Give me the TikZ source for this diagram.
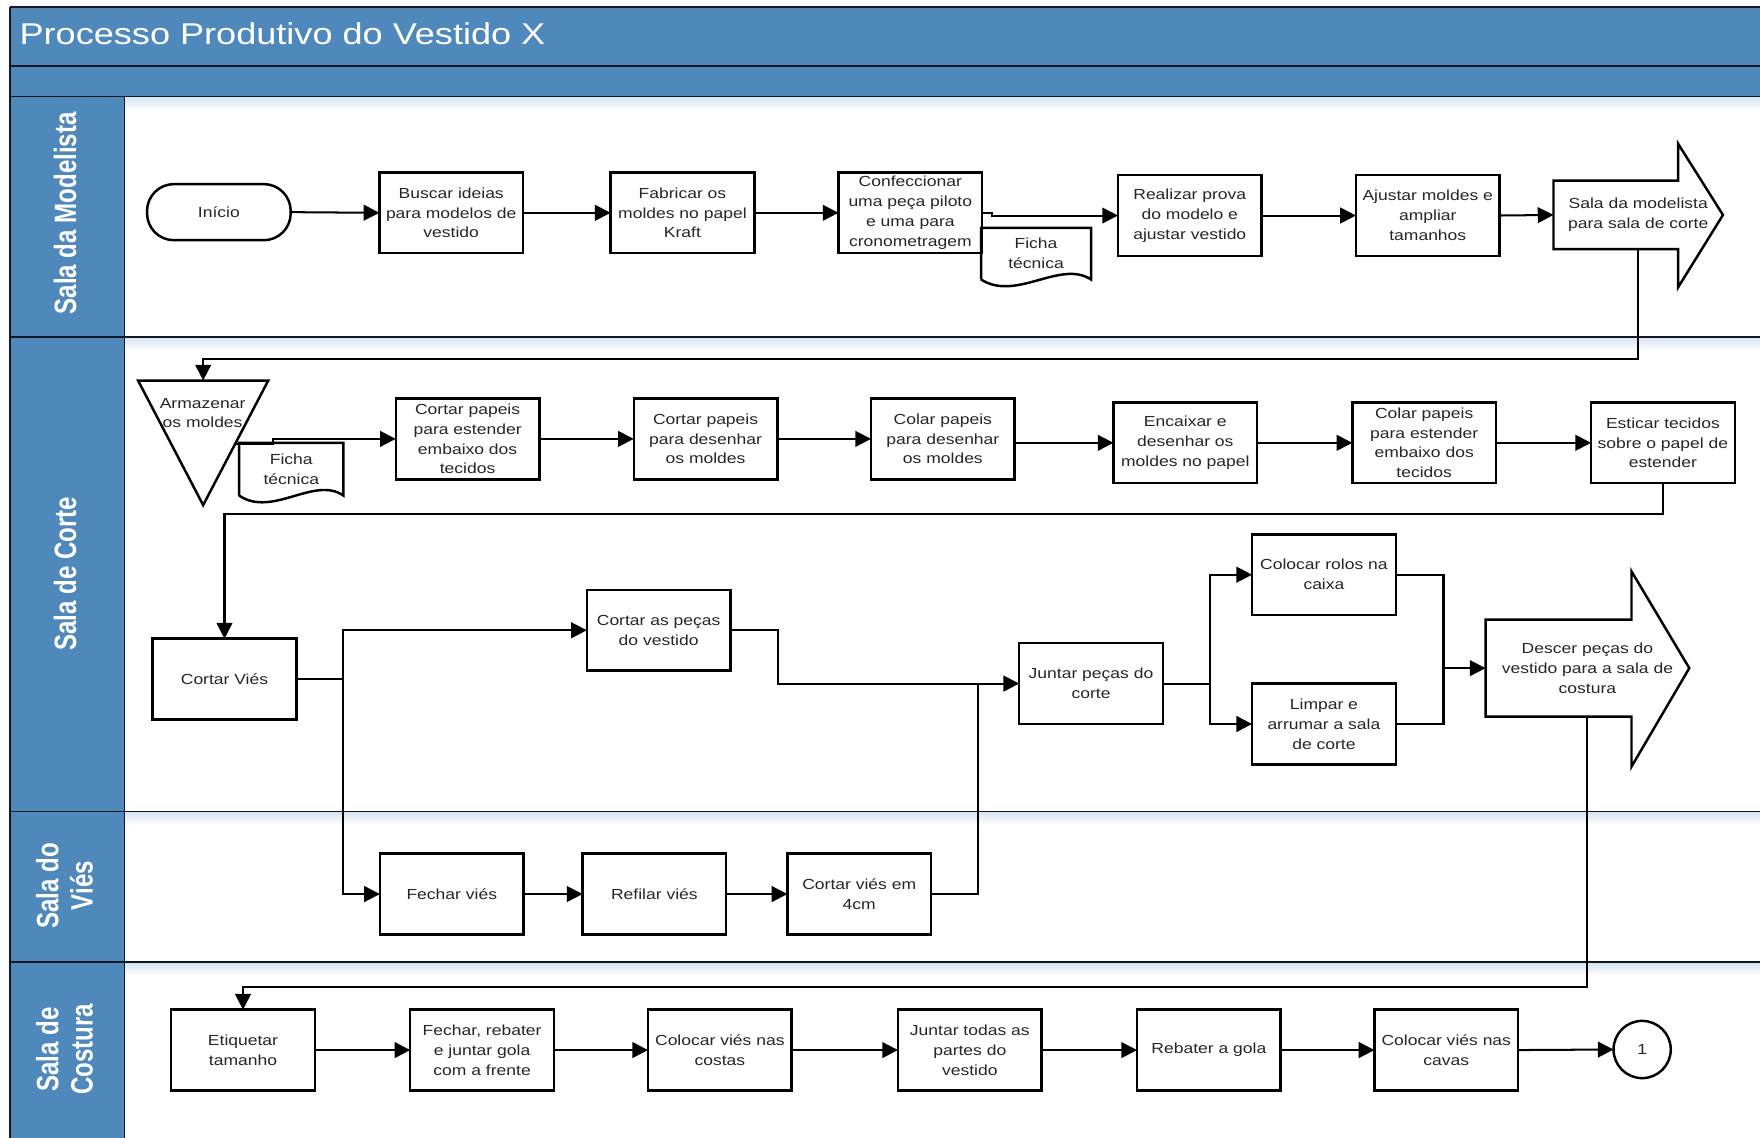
\documentclass[tikz,border=0pt]{standalone}
\usepackage{fontspec}
\setmainfont[FakeStretch=1.2]{Liberation Sans}
\newfontfamily\lanefont[FakeStretch=0.78]{Liberation Sans}
\usetikzlibrary{arrows.meta,calc}

\definecolor{laneblue}{HTML}{4F88BB}
\definecolor{glowblue}{HTML}{D8E5F2}
\definecolor{inktext}{HTML}{262626}
\definecolor{rulecol}{HTML}{111820}

\newcommand{\boxtext}{\fontsize{13}{17.7}\selectfont}
\newcommand{\titletext}{\fontsize{26.8}{30}\selectfont}
\newcommand{\lanetext}{\lanefont\bfseries\fontsize{27.5}{30.5}\selectfont}

\begin{document}
\begin{tikzpicture}[x=1pt,y=-1pt,
  every node/.style={inner sep=0pt, outer sep=0pt},
  stepbox/.style={draw=black, line width=2.2pt, fill=white, minimum width=128pt,
    minimum height=72pt, align=center, font=\boxtext, text=inktext},
  startbox/.style={stepbox, minimum height=50pt, rounded corners=24pt},
  endcircle/.style={draw=black, line width=2.2pt, fill=white, circle, minimum size=51pt,
    font=\boxtext, text=inktext},
  textarea/.style={align=center, font=\boxtext, text=inktext},
  outline/.style={draw=black, line width=2.2pt, line join=miter},
  link/.style={line width=1.8pt, draw=black},
  flow/.style={link, -{Triangle[length=14pt,width=14pt]}},
  lanelabel/.style={rotate=90, align=center, font=\lanetext, text=white},
  sep/.style={draw=rulecol, line width=1.4pt},
]
\useasboundingbox (0,0) rectangle (1568,1013);
\clip (0,0) rectangle (1568,1013);
\fill[white] (0,0) rectangle (1568,1013);

% ---------- pool frame ----------
\fill[laneblue] (9,6) rectangle (1570,86);
\fill[laneblue] (9,86) rectangle (111,1015);
\foreach \yy in {87,301,724,858}
  \shade[top color=glowblue, bottom color=white] (112,\yy) rectangle (1570,\yy+11);
\draw[sep] (9,6) -- (1570,6);
\draw[sep] (9,59) -- (1570,59);
\draw[sep] (9,86) -- (1570,86);
\draw[sep] (9,6) -- (9,1015);
\draw[sep] (111,86) -- (111,1015);
\foreach \yy in {300,723,857}
  \draw[sep] (9,\yy) -- (1570,\yy);

\node[anchor=base west, font=\titletext, text=white] (title) at (17.5,40) {Processo Produtivo do Vestido X};

\node[lanelabel] (laneA) at (58,190) {Sala da Modelista};
\node[lanelabel] (laneB) at (58,511) {Sala de Corte};
\node[lanelabel] (laneC) at (57.5,789) {Sala do\\Viés};
\node[lanelabel] (laneD) at (57.5,935) {Sala de\\Costura};

% ---------- Sala da Modelista ----------
\node[startbox] (inicio) at (195,189) {Início};
\node[stepbox] (buscar) at (402,189.6) {Buscar ideias\\para modelos de\\vestido};
\node[stepbox] (fabricar) at (608,189.6) {Fabricar os\\moldes no papel\\Kraft};
\node[stepbox] (confec) at (811,189.6) {Confeccionar\\uma peça piloto\\e uma para\\cronometragem};
\node[textarea, minimum width=98pt, minimum height=46pt] (ficha1) at (923,226) {Ficha\\técnica};
\draw[outline] (ficha1.south west) -- (ficha1.north west) -- (ficha1.north east) -- (ficha1.south east)
  .. controls ($(ficha1.south east)!0.28!(ficha1.south west)+(0,-18)$)
  and ($(ficha1.south east)!0.68!(ficha1.south west)+(0,20)$) .. (ficha1.south west);
\node[stepbox] (realizar) at (1060,192) {Realizar prova\\do modelo e\\ajustar vestido};
\node[stepbox] (ajustar) at (1272,192) {Ajustar moldes e\\ampliar\\tamanhos};
\node[textarea, minimum width=151pt, minimum height=61pt] (arrA) at (1459.5,191.5) {Sala da modelista\\para sala de corte};
\draw[outline] (arrA.north west) -- ++(111,0) -- ++(0,-33) -- (arrA.east)
  -- ($(arrA.south west)+(111,34)$) -- ++(0,-34) -- (arrA.south west) -- cycle;

\draw[flow] (inicio.east) -- (buscar.west);
\draw[flow] (buscar.east) -- (fabricar.west);
\draw[flow] (fabricar.east) -- (confec.west);
\draw[flow] (confec.east) -- ++(9,0) |- (realizar.west);
\draw[flow] (realizar.east) -- (ajustar.west);
\draw[flow] (ajustar.east) -- (arrA.west);

% ---------- Sala de Corte ----------
\node[minimum width=116pt, minimum height=111pt] (armz) at (181,394.5) {};
\draw[outline] (armz.north west) -- (armz.north east) -- (armz.south) -- cycle;
\node[textarea] (armztext) at (180.5,368) {Armazenar\\os moldes};
\node[textarea, minimum width=93pt, minimum height=47pt] (ficha2) at (259.5,418) {Ficha\\técnica};
\draw[outline] (ficha2.south west) -- (ficha2.north west) -- (ficha2.north east) -- (ficha2.south east)
  .. controls ($(ficha2.south east)!0.28!(ficha2.south west)+(0,-18)$)
  and ($(ficha2.south east)!0.68!(ficha2.south west)+(0,20)$) .. (ficha2.south west);

\node[stepbox] (cp1) at (416.6,391) {Cortar papeis\\para estender\\embaixo dos\\tecidos};
\node[stepbox] (cp2) at (628.6,391) {Cortar papeis\\para desenhar\\os moldes};
\node[stepbox] (colar1) at (840,391) {Colar papeis\\para desenhar\\os moldes};
\node[stepbox] (encaixar) at (1056,394.5) {Encaixar e\\desenhar os\\moldes no papel};
\node[stepbox] (colar2) at (1268.8,394.5) {Colar papeis\\para estender\\embaixo dos\\tecidos};
\node[stepbox] (esticar) at (1481.5,394.5) {Esticar tecidos\\sobre o papel de\\estender};

\node[stepbox] (cvies) at (200,605) {Cortar Viés};
\node[stepbox] (cpecas) at (586.8,561.5) {Cortar as peças\\do vestido};
\node[stepbox] (juntar) at (972,609) {Juntar peças do\\corte};
\node[stepbox] (rolos) at (1179.5,512) {Colocar rolos na\\caixa};
\node[stepbox] (limpar) at (1179.5,645) {Limpar e\\arrumar a sala\\de corte};
\node[textarea, minimum width=181.5pt, minimum height=86.5pt] (arrB) at (1414.25,595.25) {Descer peças do\\vestido para a sala de\\costura};
\draw[outline] (arrB.north west) -- ++(130,0) -- ++(0,-43) -- (arrB.east)
  -- ($(arrB.south west)+(130,44.5)$) -- ++(0,-44.5) -- (arrB.south west) -- cycle;

% ---------- Sala do Viés ----------
\node[stepbox] (fvies) at (402.5,796.5) {Fechar viés};
\node[stepbox] (refilar) at (583,796.5) {Refilar viés};
\node[stepbox] (c4cm) at (765.5,796.5) {Cortar viés em\\4cm};

% ---------- Sala de Costura ----------
\node[stepbox] (etiq) at (216.5,935.5) {Etiquetar\\tamanho};
\node[stepbox] (fechreb) at (429.5,935.5) {Fechar, rebater\\e juntar gola\\com a frente};
\node[stepbox] (costas) at (641.3,935.5) {Colocar viés nas\\costas};
\node[stepbox] (todas) at (864,935.5) {Juntar todas as\\partes do\\vestido};
\node[stepbox] (rebater) at (1077,935.5) {Rebater a gola};
\node[stepbox] (cavas) at (1288.5,935.5) {Colocar viés nas\\cavas};
\node[endcircle] (fim) at (1463,935) {1};

% ---------- connectors ----------
\draw[flow] (arrA.south) -- ++(0,97.5) -| (armz.north);
\coordinate (triexit) at ($(armz.north east)!0.51!(armz.south)$);
\draw[flow] (triexit) -- ++(33.5,0) |- (cp1.west);
\draw[flow] (cp1.east) -- (cp2.west);
\draw[flow] (cp2.east) -- (colar1.west);
\draw[flow] (colar1.east |- encaixar.west) -- (encaixar.west);
\draw[flow] (encaixar.east) -- (colar2.west);
\draw[flow] (colar2.east) -- (esticar.west);
\draw[flow] (esticar.south) -- ++(0,27) -| (cvies.north);

\draw[link] (cvies.east) -- ++(42,0) coordinate (b1);
\draw[flow] (b1) |- (cpecas.west);
\draw[flow] (b1) |- (fvies.west);
\draw[flow] (cpecas.east) -- ++(42,0) |- (juntar.west);
\draw[flow] (fvies.east) -- (refilar.west);
\draw[flow] (refilar.east) -- (c4cm.west);
\draw[link] (c4cm.east) -- ++(42,0) coordinate (j1) -- (j1 |- juntar.west);

\draw[link] (juntar.east) -- ++(42,0) coordinate (b2);
\draw[flow] (b2) |- (rolos.west);
\draw[flow] (b2) |- (limpar.west);
\draw[link] (rolos.east) -- ++(42.5,0) coordinate (m1) -- (m1 |- limpar.east) -- (limpar.east);
\draw[flow] (m1 |- arrB.west) -- (arrB.west);

\draw[flow] (arrB.south) -- ++(0,240.5) -| (etiq.north);
\draw[flow] (etiq.east) -- (fechreb.west);
\draw[flow] (fechreb.east) -- (costas.west);
\draw[flow] (costas.east) -- (todas.west);
\draw[flow] (todas.east) -- (rebater.west);
\draw[flow] (rebater.east) -- (cavas.west);
\draw[flow] (cavas.east) -- (fim.west);
\end{tikzpicture}
\end{document}
